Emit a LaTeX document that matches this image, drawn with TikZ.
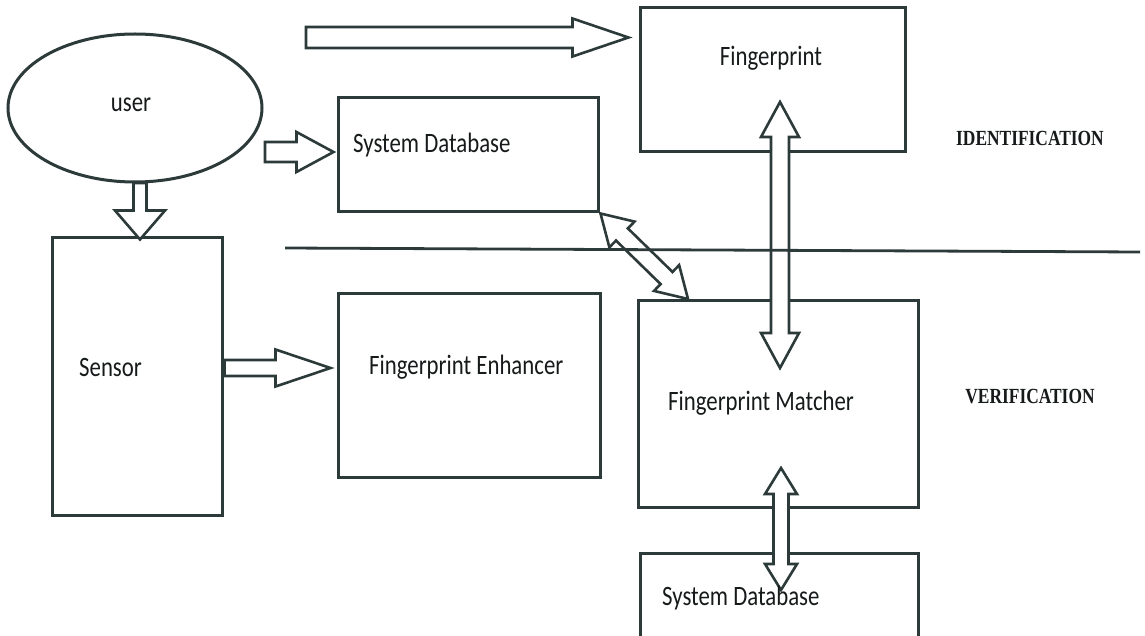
\documentclass[tikz,border=0pt]{standalone}
\usepackage{fontspec}
\setmainfont{Carlito}
\newfontfamily\tnr{Liberation Serif}
\usetikzlibrary{calc,shapes.geometric}
\definecolor{lc}{RGB}{45,58,58}
\definecolor{tc}{RGB}{22,26,26}
\tikzset{
 box/.style={draw=lc, line width=3pt, fill=white, inner sep=0pt},
 barrow/.style={draw=lc, line width=2.6pt, fill=white, line join=miter},
 lbl/.style={text=tc, font=\fontsize{22.8}{26}\selectfont, inner sep=0pt, anchor=west, yscale=1.23, transform shape},
 side/.style={text=tc, font=\tnr\bfseries\fontsize{17.4}{20}\selectfont, inner sep=0pt, yscale=1.24, transform shape},
 sep/.style={draw=lc, line width=2.8pt},
}
% #1 start, #2 end, #3 half shaft, #4 half head, #5 head length
\newcommand\blockarrow[5]{%
  \draw[barrow] let \p1=(#1), \p2=(#2), \n1={atan2(\y2-\y1,\x2-\x1)} in
    ($(\p1)+(\n1+90:#3)$) --
    ($(\p2)+(\n1+180:#5)+(\n1+90:#3)$) --
    ($(\p2)+(\n1+180:#5)+(\n1+90:#4)$) --
    (\p2) --
    ($(\p2)+(\n1+180:#5)+(\n1-90:#4)$) --
    ($(\p2)+(\n1+180:#5)+(\n1-90:#3)$) --
    ($(\p1)+(\n1-90:#3)$) -- cycle;}
\newcommand\dblockarrow[5]{%
  \draw[barrow] let \p1=(#1), \p2=(#2), \n1={atan2(\y2-\y1,\x2-\x1)} in
    ($(\p1)+(\n1:#5)+(\n1+90:#3)$) --
    ($(\p2)+(\n1+180:#5)+(\n1+90:#3)$) --
    ($(\p2)+(\n1+180:#5)+(\n1+90:#4)$) --
    (\p2) --
    ($(\p2)+(\n1+180:#5)+(\n1-90:#4)$) --
    ($(\p2)+(\n1+180:#5)+(\n1-90:#3)$) --
    ($(\p1)+(\n1:#5)+(\n1-90:#3)$) --
    ($(\p1)+(\n1:#5)+(\n1-90:#4)$) --
    (\p1) --
    ($(\p1)+(\n1:#5)+(\n1+90:#4)$) -- cycle;}
\begin{document}
\begin{tikzpicture}[x=1pt,y=-1pt]
\useasboundingbox (0,0) rectangle (1145,636);
\clip (0,0) rectangle (1145,636);
\fill[white] (0,0) rectangle (1145,636);
% shapes
\node[box, ellipse, minimum width=254, minimum height=148] (user) at (135,108) {};
\node[box, minimum width=265, minimum height=144] (fp) at (772.5,80) {};
\node[box, minimum width=260, minimum height=114] (sd1) at (468,155) {};
\node[box, minimum width=170, minimum height=277] (sensor) at (137,376.5) {};
\node[box, minimum width=262, minimum height=184] (enh) at (469,385) {};
\node[box, minimum width=280, minimum height=207] (match) at (778,403.5) {};
\node[box, minimum width=278, minimum height=107] (sd2) at (779,606.5) {};
% connector end points
\coordinate (t0) at (306,37.5);
\coordinate (t1) at ([xshift=-10pt]fp.west |- t0);
\coordinate (u1) at (265,152);
\coordinate (u2) at ([xshift=-3pt]sd1.west |- u1);
\coordinate (us1) at (140,183);
\coordinate (us2) at ([yshift=-3pt]sensor.north -| us1);
\coordinate (se1) at ([xshift=1pt]sensor.east |- 0,368);
\coordinate (se2) at ([xshift=-6pt]enh.west |- se1);
\coordinate (v1) at (780,102);
\coordinate (v2) at (780,368);
\coordinate (w1) at (781,468);
\coordinate (w2) at (781,590);
\coordinate (d1) at ([xshift=1pt]sd1.south east);
\coordinate (d2) at (688,299);
% hollow arrows
\blockarrow{t0}{t1}{10.5pt}{19pt}{56pt}
\blockarrow{u1}{u2}{10pt}{20pt}{37pt}
\blockarrow{us1}{us2}{6.5pt}{25pt}{29pt}
\blockarrow{se1}{se2}{8pt}{18.5pt}{55pt}
\dblockarrow{v1}{v2}{9pt}{19pt}{35pt}
\dblockarrow{w1}{w2}{7.5pt}{16pt}{26pt}
\dblockarrow{d1}{d2}{8.5pt}{18pt}{30pt}
% separator
\coordinate (hl1) at (285,248);
\coordinate (hl2) at (1140,252);
\draw[sep] (hl1) -- (hl2);
% labels
\node[lbl, anchor=center] (tuser) at (131,105) {user};
\node[lbl, anchor=center] (tfp) at (771,58) {Fingerprint};
\node[lbl] (tsd1) at (353,145) {System Database};
\node[lbl] (tsen) at (79,368) {Sensor};
\node[lbl] (tenh) at (369,367) {Fingerprint Enhancer};
\node[lbl] (tmat) at (668,403) {Fingerprint Matcher};
\node[lbl] (tsd2) at (662,598) {System Database};
\node[side] (ident) at (1030,138) {IDENTIFICATION};
\node[side] (verif) at (1030,397) {VERIFICATION};
\end{tikzpicture}
\end{document}
